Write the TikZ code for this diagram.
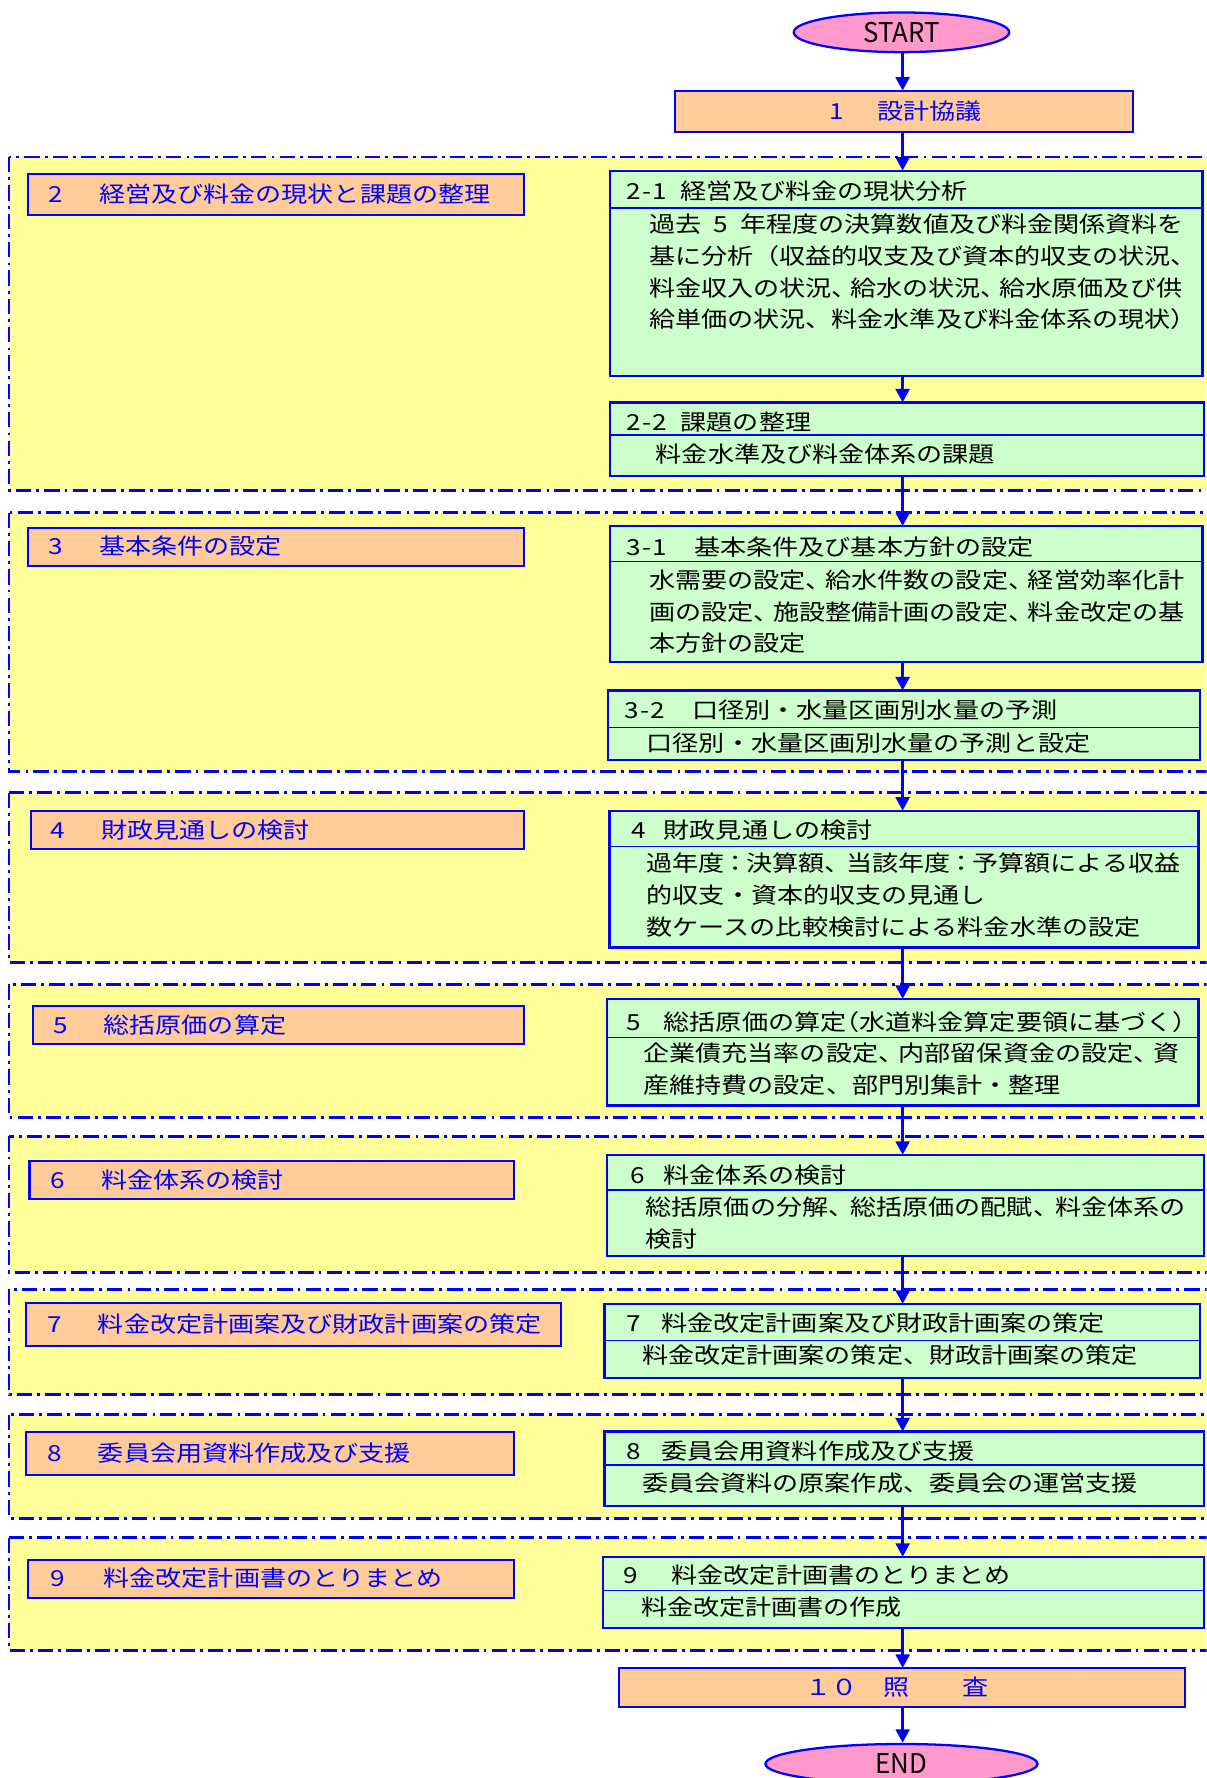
\documentclass[tikz,border=0pt]{standalone}
\usepackage{fontspec}
\newfontfamily\jp{Noto Sans CJK JP}[FakeStretch=1.18]
\newfontfamily\jpl{Noto Sans CJK JP}[FakeStretch=0.95]
\usetikzlibrary{arrows.meta,shapes.geometric}
\definecolor{gyel}{HTML}{FFFF99}
\definecolor{gorg}{HTML}{FFCC99}
\definecolor{ggrn}{HTML}{CCFFCC}
\definecolor{gpnk}{HTML}{FF99CC}
\definecolor{gblu}{HTML}{0000FF}
\newcommand\hc[1]{\makebox[5.75pt]{#1}}
\newcommand\nc[1][9pt]{\makebox[#1][l]{、}}
\newcommand\ncol[1][9.5pt]{\makebox[#1]{：}}
\newcommand\bx[6]{\node[#2,anchor=north west,minimum width={(#5-#3)*0.5pt},minimum height={(#6-#4)*0.5pt}] (#1) at (#3,#4) {};}
\begin{document}
\begin{tikzpicture}[x=0.5pt,y=-0.5pt,
  grp/.style={draw=gblu,fill=gyel,line width=1.25pt,dash pattern=on 6.75pt off 2.25pt on 1.25pt off 2.25pt},
  lbox/.style={draw=gblu,fill=gorg,line width=0.9pt,inner sep=0pt,outer sep=0pt},
  rbox/.style={draw=gblu,fill=ggrn,line width=1pt,inner sep=0pt,outer sep=0pt},
  sepl/.style={draw=gblu,line width=0.6pt},
  tx/.style={anchor=west,inner sep=0pt,font=\jp\fontsize{9.75pt}{14pt}\selectfont,align=left},
  btx/.style={tx,text=gblu},
  term/.style={ellipse,draw=gblu,fill=gpnk,line width=1pt,inner sep=0pt,font=\jpl\fontsize{12pt}{12pt}\selectfont},
  arr/.style={draw=gblu,line width=1.6pt,-{Triangle[width=6pt,length=6pt]}}]
\clip (0,0) rectangle (1064,1568);
\coordinate (spine) at (796,0);
% groups
\draw[grp] (8,138.5) rectangle (1090,432.5);
\draw[grp] (8,452) rectangle (1090,680.5);
\draw[grp] (8,699) rectangle (1090,848.5);
\draw[grp] (8,868) rectangle (1090,985.5);
\draw[grp] (8,1002) rectangle (1090,1122);
\draw[grp] (8,1137) rectangle (1090,1230);
\draw[grp] (8,1247.5) rectangle (1090,1339);
\draw[grp] (8,1356) rectangle (1090,1455.5);
% terminals
\node[term,minimum width=95pt,minimum height=17.5pt] (start) at (795,28.5) {START};
\node[term,minimum width=120pt,minimum height=17.5pt] (end) at (795,1555.5) {END};
% boxes
\bx{b1}{lbox}{595}{80}{999}{116}
\bx{b10}{lbox}{546}{1471}{1045}{1505}
\bx{l2}{lbox}{24.5}{153.5}{462}{189.5}
\bx{l3}{lbox}{25}{465.5}{462}{499}
\bx{l4}{lbox}{27}{715.5}{462}{749}
\bx{l5}{lbox}{29}{887.5}{462}{920.5}
\bx{l6}{lbox}{26}{1024}{453}{1057}
\bx{l7}{lbox}{23}{1149.5}{495}{1187}
\bx{l8}{lbox}{23}{1262.5}{453}{1301}
\bx{l9}{lbox}{24.5}{1375.5}{453}{1409}
\bx{r21}{rbox}{538}{150.5}{1060.5}{331.5}
\bx{r22}{rbox}{538}{355}{1062}{420}
\bx{r31}{rbox}{538}{464}{1060.5}{583.5}
\bx{r32}{rbox}{536}{609}{1058.5}{670.5}
\bx{r4}{rbox}{537.5}{715}{1057}{835.5}
\bx{r5}{rbox}{535.5}{881}{1057}{975}
\bx{r6}{rbox}{535.5}{1018.5}{1061.5}{1107.5}
\bx{r7}{rbox}{533}{1150}{1058.5}{1215.5}
\bx{r8}{rbox}{533}{1262.5}{1061.5}{1328}
\bx{r9}{rbox}{532}{1373}{1062}{1436}
% separators
\foreach \n/\s in {r21/16.4,r22/14.25,r31/15.5,r32/16.2,r4/15.75,r5/17,r6/15.5,r7/16,r8/14.75,r9/14.75}
  \draw[sepl] ([yshift=-\s pt]\n.north west) -- ([yshift=-\s pt]\n.north east);
% texts: top / bottom boxes
\node[btx] (t1) at (732,98) {\hc{1}\hspace{15pt}設計協議};
\node[btx] (t10) at (710,1488) {１０　照　　査};
% left boxes
\node[btx] (tl2) at (43,171.5) {\hc{2}\hspace{16.25pt}経営及び料金の現状と課題の整理};
\node[btx] (tl3) at (43,482) {\hc{3}\hspace{16.25pt}基本条件の設定};
\node[btx] (tl4) at (45,732) {\hc{4}\hspace{16.25pt}財政見通しの検討};
\node[btx] (tl5) at (47,904) {\hc{5}\hspace{16.25pt}総括原価の算定};
\node[btx] (tl6) at (45,1040.5) {\hc{6}\hspace{16.25pt}料金体系の検討};
\node[btx] (tl7) at (42,1168) {\hc{7}\hspace{16.25pt}料金改定計画案及び財政計画案の策定};
\node[btx] (tl8) at (42,1281.5) {\hc{8}\hspace{16.25pt}委員会用資料作成及び支援};
\node[btx] (tl9) at (45,1392) {\hc{9}\hspace{17.25pt}料金改定計画書のとりまとめ};
% right boxes
\node[tx] (h21) at (553,168.5) {\hc{2}\hc{-}\hc{1}\hspace{6.25pt}経営及び料金の現状分析};
\node[tx] (c21) at (572,239.75) {過去\makebox[17.25pt]{5}年程度の決算数値及び料金関係資料を\\基に分析（収益的収支及び資本的収支の状況、\\料金収入の状況\nc[8.25pt]給水の状況\nc[8.25pt]給水原価及び供\\給単価の状況、料金水準及び料金体系の現状）};
\node[tx] (h22) at (553,372.5) {\hc{2}\hc{-}\hc{2}\hspace{6.25pt}課題の整理};
\node[tx] (c22) at (578,400.5) {料金水準及び料金体系の課題};
\node[tx] (h31) at (553,482.5) {\hc{3}\hc{-}\hc{1}\hspace{12.25pt}基本条件及び基本方針の設定};
\node[tx] (c31) at (572,539.5) {水需要の設定\nc[8.75pt]給水件数の設定\nc[8.75pt]経営効率化計\\画の設定\nc[8.75pt]施設整備計画の設定\nc[8.75pt]料金改定の基\\本方針の設定};
\node[tx] (h32) at (551,626.5) {\hc{3}\hc{-}\hc{2}\hspace{12.25pt}口径別・水量区画別水量の予測};
\node[tx] (c32) at (570,655) {口径別・水量区画別水量の予測と設定};
\node[tx] (h4) at (557,732) {\hc{4}\hspace{8.25pt}財政見通しの検討};
\node[tx] (c4) at (570,789.5) {過年度\ncol 決算額\nc[9.5pt]当該年度\ncol 予算額による収益\\的収支・資本的収支の見通し\\数ケースの比較検討による料金水準の設定};
\node[tx] (h5) at (553,901) {\hc{5}\hspace{10.25pt}総括原価の算定\makebox[5.75pt][r]{（}水道料金算定要領に基づく\makebox[5.75pt][l]{）}};
\node[tx] (c5) at (567,943) {企業債充当率の設定\nc[9pt]内部留保資金の設定\nc[9pt]資\\産維持費の設定、部門別集計・整理};
\node[tx] (h6) at (556,1036.5) {\hc{6}\hspace{8.75pt}料金体系の検討};
\node[tx] (c6) at (569,1078.5) {総括原価の分解\nc[9.75pt]総括原価の配賦\nc[9.75pt]料金体系の\\検討};
\node[tx] (h7) at (553,1166.5) {\hc{7}\hspace{9.25pt}料金改定計画案及び財政計画案の策定};
\node[tx] (c7) at (566,1195) {料金改定計画案の策定、財政計画案の策定};
\node[tx] (h8) at (553,1279.5) {\hc{8}\hspace{9.25pt}委員会用資料作成及び支援};
\node[tx] (c8) at (566,1308) {委員会資料の原案作成、委員会の運営支援};
\node[tx] (h9) at (550,1389.5) {\hc{9}\hspace{15.25pt}料金改定計画書のとりまとめ};
\node[tx] (c9) at (565,1417.5) {料金改定計画書の作成};
% arrows
\draw[arr] (start.south -| spine) -- (b1.north -| spine);
\draw[arr] (b1.south -| spine) -- (r21.north -| spine);
\draw[arr] (r21.south -| spine) -- (r22.north -| spine);
\draw[arr] (r22.south -| spine) -- (r31.north -| spine);
\draw[arr] (r31.south -| spine) -- (r32.north -| spine);
\draw[arr] (r32.south -| spine) -- (r4.north -| spine);
\draw[arr] (r4.south -| spine) -- (r5.north -| spine);
\draw[arr] (r5.south -| spine) -- (r6.north -| spine);
\draw[arr] (r6.south -| spine) -- (r7.north -| spine);
\draw[arr] (r7.south -| spine) -- (r8.north -| spine);
\draw[arr] (r8.south -| spine) -- (r9.north -| spine);
\draw[arr] (r9.south -| spine) -- (b10.north -| spine);
\draw[arr] (b10.south -| spine) -- (end.north -| spine);
\end{tikzpicture}
\end{document}
